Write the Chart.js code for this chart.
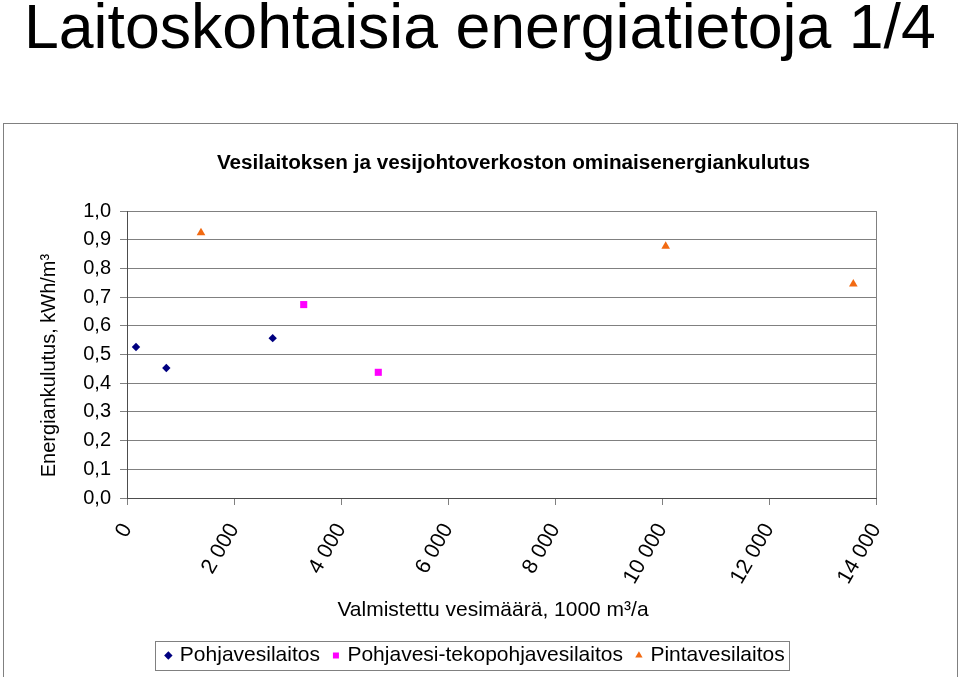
<!DOCTYPE html>
<html><head><meta charset="utf-8">
<script src="https://cdn.jsdelivr.net/npm/chart.js@4.4.0/dist/chart.umd.min.js"></script>
<style>
html,body{margin:0;padding:0;background:#fff;width:959px;height:677px;overflow:hidden;}
#main{position:absolute;left:24px;top:-5.5px;margin:0;font-family:'Liberation Sans',Arial,sans-serif;font-size:62.6px;line-height:62.6px;font-weight:normal;white-space:nowrap;color:#000;}
#frame{position:absolute;left:3px;top:123px;width:953px;height:560px;border:1px solid #808080;}
#c{position:absolute;left:0;top:0;}
</style></head><body>
<h1 id="main">Laitoskohtaisia energiatietoja 1/4</h1>
<div id="frame"><canvas id="c" width="952" height="553"></canvas></div>
<script>
const chartTitle = 'Vesilaitoksen ja vesijohtoverkoston ominaisenergiankulutus';
const xAxisTitle = 'Valmistettu vesimäärä, 1000 m³/a';
const yAxisTitle = 'Energiankulutus, kWh/m³';
const seriesNames = ['Pohjavesilaitos', 'Pohjavesi-tekopohjavesilaitos', 'Pintavesilaitos'];
const pohjaX = [168, 735, 2723];
const pohjaY = [0.526, 0.453, 0.557];
const tekoX = [3303, 4697];
const tekoY = [0.674, 0.438];
const pintaX = [1383, 10069, 13576];
const pintaY = [0.924, 0.877, 0.746];
const xTickLabels = ['0', '2 000', '4 000', '6 000', '8 000', '10 000', '12 000', '14 000'];
const yTickLabels = ['0,0', '0,1', '0,2', '0,3', '0,4', '0,5', '0,6', '0,7', '0,8', '0,9', '1,0'];

const pts = (xs, ys) => xs.map((x, i) => ({x: x, y: ys[i]}));

function nudgeTitle(scale, dx, dy) {
  if (!scale || scale._nudged) return;
  const orig = scale.drawTitle.bind(scale);
  scale.drawTitle = function () {
    const ctx = this.ctx;
    ctx.save();
    ctx.translate(dx, dy);
    orig();
    ctx.restore();
  };
  scale._nudged = true;
}

const adjust = {
  id: 'adjust',
  afterLayout(chart) {
    const t = chart.titleBlock;
    if (t) { t.left += 37.5; t.right += 37.5; }
    nudgeTitle(chart.scales.y, 2, 11);
    nudgeTitle(chart.scales.x, -8.5, 2);
  }
};
const legendFrame = {
  id: 'legendFrame',
  afterDraw(chart) {
    const lg = chart.legend;
    if (!lg || !lg.legendHitBoxes || !lg.legendHitBoxes.length) return;
    const hb = lg.legendHitBoxes;
    const l = Math.min(...hb.map(h => h.left)) - 12;
    const r = Math.max(...hb.map(h => h.left + h.width)) + 5;
    const c = hb[0].top + hb[0].height / 2;
    const ctx = chart.ctx;
    ctx.save();
    ctx.strokeStyle = '#808080';
    ctx.lineWidth = 1;
    ctx.strokeRect(Math.round(l) + 0.5, Math.round(c - 14.5) + 0.5, Math.round(r - l), 29);
    ctx.restore();
  }
};

Chart.defaults.font.family = "'Liberation Sans', Arial, sans-serif";
Chart.defaults.color = '#000';

new Chart(document.getElementById('c'), {
  type: 'scatter',
  data: {
    datasets: [
      {label: seriesNames[0], data: pts(pohjaX, pohjaY), yAxisID: 'y', pointStyle: 'rectRot', pointRadius: 4.2, backgroundColor: '#000080', borderColor: '#000080', borderWidth: 0},
      {label: seriesNames[1], data: pts(tekoX, tekoY), yAxisID: 'y', pointStyle: 'rect', pointRadius: 5, backgroundColor: '#ff00ff', borderColor: '#ff00ff', borderWidth: 0},
      {label: seriesNames[2], data: pts(pintaX, pintaY), yAxisID: 'y', pointStyle: 'triangle', pointRadius: 5, backgroundColor: '#f26a12', borderColor: '#f26a12', borderWidth: 0}
    ]
  },
  options: {
    responsive: false,
    maintainAspectRatio: false,
    animation: false,
    layout: {padding: {left: 0, right: 8, top: 0, bottom: 1}},
    plugins: {
      title: {display: true, text: chartTitle, color: '#000', font: {size: 20.7, weight: 'bold'}, padding: {top: 26.6, bottom: 35.6}},
      legend: {display: true, position: 'bottom', labels: {usePointStyle: true, boxWidth: 2, boxHeight: 6, padding: 15, color: '#000', font: {size: 21}}},
      tooltip: {enabled: false}
    },
    scales: {
      x: {
        type: 'linear', position: 'bottom', min: 0, max: 14000,
        ticks: {stepSize: 2000, autoSkip: false, minRotation: 60, maxRotation: 60, padding: 14, font: {size: 21.5}, color: '#000',
          callback: (v, i) => xTickLabels[i]},
        grid: {color: (ctx) => (ctx.tick && ctx.tick.value === 14000) ? '#808080' : 'rgba(0,0,0,0)', tickColor: '#808080', tickLength: 7},
        border: {color: '#4d4d4d'},
        title: {display: true, text: xAxisTitle, font: {size: 21}, color: '#000', padding: {top: 0, bottom: 9}},
        afterFit(s) { s.height = 132; }
      },
      y: {
        type: 'linear', position: 'left', min: 0, max: 1,
        ticks: {stepSize: 0.1, padding: 9, font: {size: 20}, color: '#000', callback: (v, i) => yTickLabels[i]},
        grid: {color: '#808080', tickLength: 7},
        border: {color: '#4d4d4d'},
        title: {display: true, text: yAxisTitle, font: {size: 20}, color: '#000', padding: {top: 31, bottom: 0}},
        afterFit(s) { s.width = 123; }
      },
      y2: {
        type: 'linear', position: 'right', display: true,
        grid: {display: false, drawTicks: false},
        ticks: {display: false},
        border: {display: false},
        afterFit(s) { s.width = 72; }
      }
    }
  },
  plugins: [adjust, legendFrame]
});
</script>
</body></html>
